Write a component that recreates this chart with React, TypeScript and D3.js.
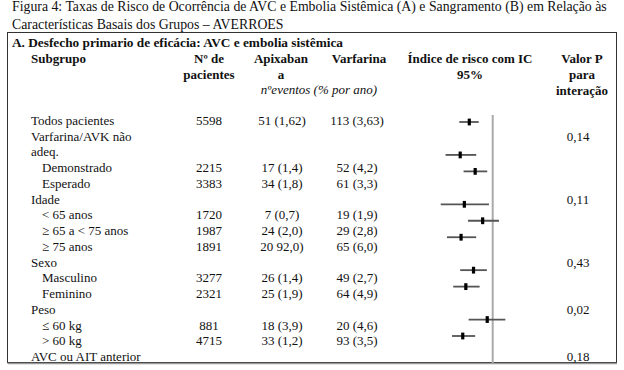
import React from 'react'
import * as d3 from 'd3'

// linhas da tabela (rótulo, recuo, nº pacientes, apixabana, varfarina, valor P)
const labels = ['Todos pacientes', 'Varfarina/AVK não', 'adeq.', 'Demonstrado', 'Esperado', 'Idade', '< 65 anos', '≥ 65 a < 75 anos', '≥ 75 anos', 'Sexo', 'Masculino', 'Feminino', 'Peso', '≤ 60 kg', '> 60 kg', 'AVC ou AIT anterior']
const indent = [0, 0, 0, 1, 1, 0, 1, 1, 1, 0, 1, 1, 0, 1, 1, 0]
const nPacientes = ['5598', '', '', '2215', '3383', '', '1720', '1987', '1891', '', '3277', '2321', '', '881', '4715', '']
const apixabana = ['51 (1,62)', '', '', '17 (1,4)', '34 (1,8)', '', '7 (0,7)', '24 (2,0)', '20 92,0)', '', '26 (1,4)', '25 (1,9)', '', '18 (3,9)', '33 (1,2)', '']
const varfarina = ['113 (3,63)', '', '', '52 (4,2)', '61 (3,3)', '', '19 (1,9)', '29 (2,8)', '65 (6,0)', '', '49 (2,7)', '64 (4,9)', '', '20 (4,6)', '93 (3,5)', '']
const valorP = ['', '0,14', '', '', '', '0,11', '', '', '', '0,43', '', '', '0,02', '', '', '0,18']

// índice de risco (IC 95%) — linha "adeq." não conta no gráfico
const hr = [0.45, null, 0.33, 0.55, null, 0.38, 0.71, 0.34, null, 0.52, 0.40, null, 0.83, 0.36]
const hrLow = [0.32, null, 0.20, 0.37, null, 0.17, 0.43, 0.21, null, 0.33, 0.26, null, 0.44, 0.25]
const hrHigh = [0.62, null, 0.57, 0.83, null, 0.88, 1.24, 0.57, null, 0.82, 0.64, null, 1.54, 0.55]

const W = 624, H = 370
const font = '"Liberation Serif", "Times New Roman", serif'

const App = () => {
    const rowY = d3.scaleLinear().domain([0, labels.length - 1]).range([125, 361])
    const plotY = d3.scaleLinear().domain([0, hr.length - 1]).range([122, 336])
    const x = d3.scaleLog().domain([0.1, 1]).range([425.2, 492.7])

    const txt = { fontFamily: font, fontSize: 13, fill: '#111' }
    const bold = { ...txt, fontWeight: 700 }

    return (
        <svg width={W} height={H} style={{ position: 'absolute', left: 0, top: 0, background: '#fff' }}>
            <text x={12} y={11} {...txt} fontSize={13.8}>Figura 4: Taxas de Risco de Ocorrência de AVC e Embolia Sistêmica (A) e Sangramento (B) em Relação às</text>
            <text x={12} y={28.5} {...txt} fontSize={13.8}>Características Basais dos Grupos – AVERROES</text>

            <rect x={7.5} y={32.5} width={609} height={330} fill="none" stroke="#333" strokeWidth={1} />
            <line x1={7.5} x2={617} y1={363.5} y2={363.5} stroke="#999" strokeWidth={1.5} />

            <text x={12} y={47} {...bold} fontSize={13.3}>A. Desfecho primario de eficácia: AVC e embolia sistêmica</text>
            <text x={31} y={63} {...bold}>Subgrupo</text>
            <g textAnchor="middle">
                <text x={209} y={63} {...bold}>Nº de</text>
                <text x={209} y={79} {...bold}>pacientes</text>
                <text x={281} y={63} {...bold}>Apixaban</text>
                <text x={281} y={79} {...bold}>a</text>
                <text x={359} y={63} {...bold}>Varfarina</text>
                <text x={470} y={63} {...bold}>Índice de risco com IC</text>
                <text x={470} y={79} {...bold}>95%</text>
                <text x={582} y={63} {...bold}>Valor P</text>
                <text x={582} y={79} {...bold}>para</text>
                <text x={582} y={95} {...bold}>interação</text>
                <text x={319} y={94} {...txt} fontStyle="italic">nºeventos (% por ano)</text>
            </g>

            {labels.map((l, i) => (
                <g key={i} transform={`translate(0,${rowY(i)})`} {...txt}>
                    <text x={indent[i] ? 42 : 31}>{l}</text>
                    <text x={209} textAnchor="middle">{nPacientes[i]}</text>
                    <text x={282} textAnchor="middle">{apixabana[i]}</text>
                    <text x={357} textAnchor="middle">{varfarina[i]}</text>
                    <text x={578} textAnchor="middle">{valorP[i]}</text>
                </g>
            ))}

            <line x1={x(1)} x2={x(1)} y1={115} y2={363} stroke="#aaa" strokeWidth={2} />
            {hr.map((d, i) => d == null ? null : (
                <g key={i}>
                    <line x1={x(hrLow[i]!)} x2={x(hrHigh[i]!)} y1={plotY(i)} y2={plotY(i)} stroke="#555" strokeWidth={1.8} />
                    <rect x={x(d) - 1.6} y={plotY(i) - 3.4} width={3.2} height={6.8} fill="#000" />
                </g>
            ))}
        </svg>
    )
}

export default App
